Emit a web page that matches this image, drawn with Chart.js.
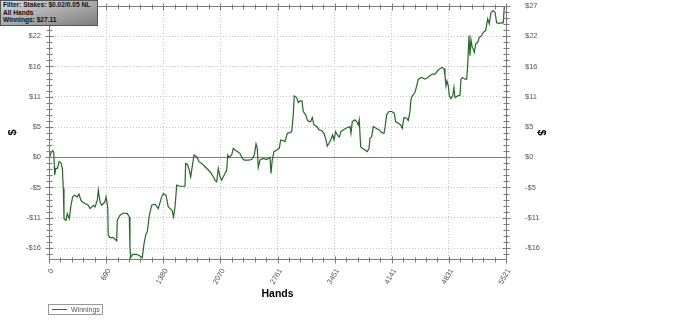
<!DOCTYPE html>
<html>
<head>
<meta charset="utf-8">
<script src="https://cdn.jsdelivr.net/npm/chart.js@4"></script>
<style>
    body { margin: 0; background: #fff; }
    #wrap { position: relative; width: 700px; height: 332px; }
    #info {
        position: absolute; left: 0; top: 0; width: 94px; height: 24px;
        padding: 0 0 0 2px;
        background: linear-gradient(to right bottom, #d8d8d8, #7e7e7e);
        border: 1px solid #555;
        font: bold 6.6px/7.7px "Liberation Sans", sans-serif; color: #111;
        white-space: nowrap;
    }
    #legend {
        position: absolute; left: 48px; top: 304px; width: 53px; height: 9px;
        border: 1px solid #9a9a9a;
        font: 7px/9px "Liberation Sans", sans-serif; color: #555;
    }
    #legend span.swatch {
        position: absolute; left: 3px; top: 4px; width: 15px; height: 1px; background: #2a6e2a;
    }
    #legend span.name { position: absolute; left: 22px; top: 0; }
</style>
</head>
<body>
<div id="wrap">
    <canvas id="winningsChart" width="700" height="332"></canvas>
    <div id="info">Filter: Stakes: $0.02/0.05 NL<br>All Hands<br>Winnings: $27.11</div>
    <div id="legend"><span class="swatch"></span><span class="name">Winnings</span></div>
</div>
<script>
const hands = [0, 24, 45, 57, 69, 81, 103, 121, 145, 161, 173, 181, 205, 221, 245, 266, 286, 306, 342, 362,
    383, 402, 435, 475, 495, 535, 556, 583, 596, 616, 637, 676, 689, 709, 716, 737, 777, 818, 825, 858,
    898, 946, 970, 978, 987, 1011, 1059, 1099, 1127, 1148, 1172, 1187, 1212, 1241, 1280, 1320, 1361, 1381, 1413, 1441,
    1486, 1504, 1522, 1543, 1582, 1643, 1651, 1673, 1695, 1712, 1736, 1752, 1784, 1812, 1845, 1885, 1945, 1985, 2005, 2026,
    2045, 2066, 2086, 2106, 2126, 2147, 2159, 2174, 2207, 2226, 2247, 2280, 2307, 2335, 2359, 2408, 2449, 2480, 2501, 2516,
    2528, 2549, 2589, 2630, 2670, 2682, 2697, 2718, 2751, 2782, 2799, 2827, 2851, 2879, 2911, 2932, 2951, 2963, 2992, 3012,
    3032, 3056, 3072, 3101, 3120, 3141, 3161, 3181, 3201, 3234, 3265, 3294, 3322, 3346, 3362, 3382, 3403, 3427, 3443, 3463,
    3483, 3507, 3527, 3555, 3588, 3636, 3648, 3664, 3696, 3717, 3736, 3748, 3765, 3785, 3817, 3845, 3866, 3878, 3898, 3918,
    3950, 3990, 4019, 4047, 4059, 4079, 4107, 4140, 4171, 4188, 4220, 4249, 4268, 4288, 4321, 4340, 4361, 4373, 4389, 4421,
    4442, 4461, 4502, 4542, 4575, 4602, 4630, 4663, 4696, 4715, 4744, 4772, 4784, 4796, 4808, 4824, 4836, 4856, 4877, 4892,
    4904, 4937, 4965, 4977, 4993, 5025, 5046, 5058, 5074, 5086, 5098, 5113, 5126, 5138, 5155, 5179, 5198, 5227, 5247, 5275,
    5300, 5319, 5339, 5367, 5388, 5408, 5436, 5468, 5488, 5500, 5521];

const winnings = [-0.4, 0.8, 1.2, 0.9, -3.2, -2.0, -2.0, -0.8, -1.0, -2.0, -5.6, -11.0, -11.3, -10.1, -11.0, -8.6, -7.1, -6.8, -7.1, -6.6,
    -7.6, -8.0, -8.3, -8.6, -9.2, -8.6, -8.9, -7.7, -5.9, -8.0, -8.6, -8.0, -7.1, -8.9, -14.0, -14.4, -14.4, -15.0, -11.3, -10.4,
    -10.0, -10.1, -10.7, -16.2, -18.0, -17.4, -17.4, -17.7, -18.0, -15.5, -13.7, -13.4, -10.4, -8.6, -8.4, -9.2, -7.1, -6.5, -6.8, -8.9,
    -9.5, -10.7, -9.0, -5.0, -5.2, -5.2, -1.1, -1.3, -2.3, -3.5, -1.1, 0.4, 0.1, -0.8, -1.1, -1.7, -2.6, -3.5, -4.1, -4.4,
    -2.0, -3.5, -4.1, -3.5, -2.9, -2.3, 0.4, 0.0, 0.4, 1.6, 1.3, 1.0, 0.7, -0.2, -0.5, -0.5, -0.4, 0.4, 2.4, 1.6,
    -1.8, -0.5, -0.2, -0.4, 0.0, -2.9, -0.5, 1.0, 1.3, 1.6, 3.1, 3.0, 2.8, 4.3, 4.4, 4.6, 7.6, 11.0, 10.7, 9.8,
    10.1, 10.1, 8.2, 7.6, 6.7, 6.4, 6.4, 7.1, 5.8, 5.5, 4.9, 4.8, 4.3, 3.1, 2.0, 2.5, 3.1, 4.0, 3.1, 4.6,
    4.0, 3.6, 4.6, 4.9, 5.2, 5.5, 4.3, 6.4, 6.7, 6.4, 5.8, 6.7, 1.9, 1.6, 1.3, 1.0, 1.6, 3.4, 3.7, 5.5,
    5.2, 4.9, 4.4, 4.3, 5.2, 7.6, 8.2, 8.2, 7.9, 6.4, 6.1, 5.8, 5.2, 7.1, 7.0, 6.6, 8.2, 10.4, 11.0, 11.6,
    12.8, 14.0, 14.3, 14.0, 14.3, 14.6, 14.9, 14.9, 15.5, 15.8, 16.1, 15.9, 14.6, 12.8, 13.7, 12.8, 11.0, 10.5, 11.0, 12.5,
    10.7, 11.0, 11.1, 14.0, 14.3, 14.0, 14.0, 16.4, 21.8, 18.2, 21.1, 19.7, 19.4, 18.8, 20.3, 20.6, 21.5, 21.8, 22.4, 22.7,
    24.8, 23.9, 25.9, 26.3, 26.0, 24.1, 24.0, 24.1, 24.1, 26.9, 27.11];

// axis ticks
const xTicks = [0, 690, 1380, 2070, 2761, 3451, 4141, 4831, 5521];
const yTicks = [-16.27, -10.84, -5.42, 0, 5.42, 10.84, 16.27, 21.69, 27.11];
const yTickLabels = ["-$16", "-$11", "-$5", "$0", "$5", "$11", "$16", "$22", "$27"];
const yMin = -18.24;
const yMax = 27.11;

const axisColor = "#7c7c7c";
const tickFont = { family: "Liberation Sans", size: 7.5 };

// minor + major tick marks, top border and the zero line
const axisMarks = {
    id: "axisMarks",
    beforeDatasetsDraw(chart) {
        const { ctx, chartArea: a, scales } = chart;
        const y0 = Math.round(scales.y.getPixelForValue(0)) + 0.5;
        ctx.save();
        ctx.strokeStyle = "#808080";
        ctx.lineWidth = 1;
        ctx.beginPath();
        ctx.moveTo(a.left, y0);
        ctx.lineTo(a.right, y0);
        ctx.stroke();
        ctx.restore();
    },
    afterDraw(chart) {
        const { ctx, chartArea: a, scales } = chart;
        const L = Math.round(a.left) + 0.5, R = Math.round(a.right) + 0.5;
        const T = Math.round(a.top) + 0.5, B = Math.round(a.bottom) + 0.5;
        ctx.save();
        ctx.strokeStyle = axisColor;
        ctx.lineWidth = 1;
        ctx.beginPath();
        ctx.moveTo(L, T); ctx.lineTo(R, T); ctx.lineTo(R, B); ctx.lineTo(L, B); ctx.closePath();

        // x ticks, bottom and top
        for (let i = 0; i < xTicks.length; i++) {
            const px = Math.round(scales.x.getPixelForValue(xTicks[i])) + 0.5;
            ctx.moveTo(px, B - 3); ctx.lineTo(px, B + 4);
            ctx.moveTo(px, T - 3); ctx.lineTo(px, T + 4);
            if (i < xTicks.length - 1) {
                for (let k = 1; k < 5; k++) {
                    const v = xTicks[i] + (xTicks[i + 1] - xTicks[i]) * k / 5;
                    const mx = Math.round(scales.x.getPixelForValue(v)) + 0.5;
                    ctx.moveTo(mx, B - 2); ctx.lineTo(mx, B + 3);
                    ctx.moveTo(mx, T - 2); ctx.lineTo(mx, T + 3);
                }
            }
        }
        // y ticks, left and right
        for (let i = 0; i < yTicks.length; i++) {
            const py = Math.round(scales.y.getPixelForValue(yTicks[i])) + 0.5;
            ctx.moveTo(L - 4, py); ctx.lineTo(L + 4, py);
            ctx.moveTo(R - 4, py); ctx.lineTo(R + 4, py);
        }
        for (let i = 0; i < yTicks.length; i++) {
            const lo = i === 0 ? yTicks[0] - 5.42 : yTicks[i - 1];
            for (let k = 1; k < 5; k++) {
                const v = lo + (yTicks[i] - lo) * k / 5;
                if (v < yMin) continue;
                const my = Math.round(scales.y.getPixelForValue(v)) + 0.5;
                ctx.moveTo(L - 3, my); ctx.lineTo(L + 3, my);
                ctx.moveTo(R - 3, my); ctx.lineTo(R + 3, my);
            }
        }
        ctx.stroke();
        ctx.restore();
    }
};

const points = hands.map((h, i) => ({ x: h, y: winnings[i] }));

const dottedGrid = { color: "#c4c4c4", drawTicks: false, lineWidth: 1 };

// fixed widths, and no extra room for the end labels
function fixWidth(w) {
    return (scale) => {
        scale.width = w;
        scale.paddingTop = 0;
        scale.paddingBottom = 0;
    };
}

new Chart(document.getElementById("winningsChart"), {
    type: "line",
    data: {
        datasets: [{
            label: "Winnings",
            data: points,
            borderColor: "#236b23",
            borderWidth: 1.2,
            pointRadius: 0,
            tension: 0,
            yAxisID: "y"
        }]
    },
    options: {
        responsive: false,
        animation: false,
        layout: { padding: { top: 6, right: 148, bottom: 32, left: 0 } },
        plugins: { legend: { display: false }, tooltip: { enabled: false } },
        scales: {
            x: {
                type: "linear",
                min: 0,
                max: 5521,
                afterBuildTicks: (scale) => { scale.ticks = xTicks.map(v => ({ value: v })); },
                afterFit: (scale) => { scale.height = 41; },
                grid: dottedGrid,
                border: { display: false, dash: [1, 2] },
                ticks: {
                    autoSkip: false,
                    minRotation: 60,
                    maxRotation: 60,
                    padding: 8,
                    labelOffset: 3,
                    color: "#555",
                    font: tickFont,
                    callback: (v) => String(v)
                },
                title: {
                    display: true,
                    text: "Hands",
                    color: "#000",
                    font: { family: "Liberation Sans", size: 10.5, weight: "bold" },
                    padding: { top: 0, bottom: 0 }
                }
            },
            y: {
                position: "left",
                min: yMin,
                max: yMax,
                afterBuildTicks: (scale) => { scale.ticks = yTicks.map(v => ({ value: v })); },
                afterFit: fixWidth(49),
                grid: dottedGrid,
                border: { display: false, dash: [1, 2] },
                ticks: {
                    padding: 8,
                    color: "#555",
                    font: tickFont,
                    callback: (v, i) => yTickLabels[i]
                },
                title: {
                    display: true,
                    text: "$",
                    color: "#000",
                    font: { family: "Liberation Sans", size: 11, weight: "bold" },
                    padding: { top: 6, bottom: 0 }
                }
            },
            y2: {
                position: "right",
                min: yMin,
                max: yMax,
                afterBuildTicks: (scale) => { scale.ticks = yTicks.map(v => ({ value: v })); },
                afterFit: fixWidth(46),
                grid: { display: false },
                border: { display: false },
                ticks: {
                    padding: 11,
                    color: "#555",
                    font: tickFont,
                    callback: (v, i) => yTickLabels[i]
                },
                title: {
                    display: true,
                    text: "$",
                    color: "#000",
                    font: { family: "Liberation Sans", size: 11, weight: "bold" },
                    padding: { top: 4, bottom: 0 }
                }
            }
        }
    },
    plugins: [axisMarks]
});
</script>
</body>
</html>
